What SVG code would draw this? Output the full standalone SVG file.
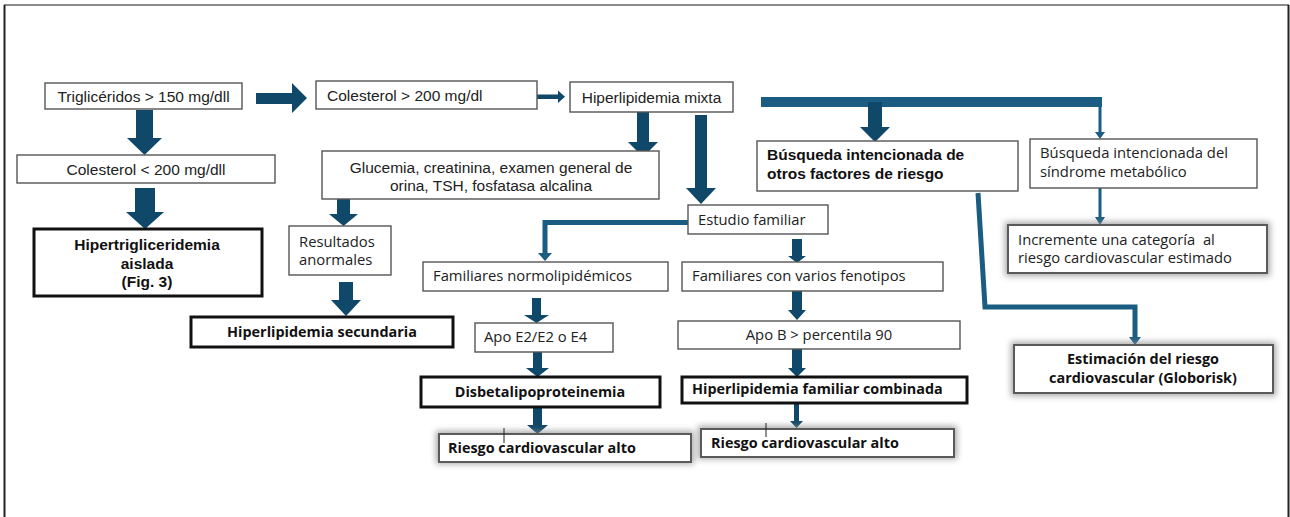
<svg xmlns="http://www.w3.org/2000/svg" width="1290" height="517" viewBox="0 0 1290 517">
  <defs>
    <style>
      .box { fill: #ffffff; stroke: #555555; stroke-width: 1.4; }
      .bold-box { fill: #ffffff; stroke: #111111; stroke-width: 3; }
      .soft-box { fill: #ffffff; stroke: #5a5a5a; stroke-width: 2; }
      .halo { fill: #8a8a8a; opacity: 0.75; filter: url(#blur); }
      .arrow { fill: #0f4868; }
      .link { fill: none; stroke: #1b5c82; stroke-width: 5; }
      .thin { fill: none; stroke: #1b5c82; stroke-width: 3; }
      .tip { fill: #1b5c82; }
      .ar { font-family: "Liberation Sans", Arial, sans-serif; font-size: 15.5px; fill: #222222; }
      .ar-b { font-family: "Liberation Sans", Arial, sans-serif; font-size: 15.5px; font-weight: bold; fill: #111111; }
      .ap { font-family: "Open Sans", "Noto Sans", sans-serif; font-size: 14.8px; fill: #222222; }
      .ap-b { font-family: "Open Sans", "Noto Sans", sans-serif; font-size: 14.4px; font-weight: bold; fill: #111111; }
      .mid { text-anchor: middle; }
      .tick { stroke: #222222; stroke-width: 1; }
    </style>
    <filter id="blur" x="-20%" y="-50%" width="140%" height="200%">
      <feGaussianBlur stdDeviation="3"/>
    </filter>
  </defs>

  <!-- frame -->
  <g id="frame">
    <line x1="4" y1="5" x2="1289" y2="5" stroke="#8a8a8a" stroke-width="2"/>
    <line x1="4.5" y1="5" x2="4.5" y2="517" stroke="#222222" stroke-width="2"/>
    <line x1="1288.5" y1="5" x2="1288.5" y2="517" stroke="#222222" stroke-width="2"/>
  </g>

  <!-- connectors -->
  <g id="connectors">
    <!-- Triglicéridos -> Colesterol < 200 -->
    <polygon class="arrow" points="136,110 153,110 153,138 162,138 144.5,155 127,138 136,138"/>
    <!-- Colesterol < 200 -> Hipertrigliceridemia aislada -->
    <polygon class="arrow" points="135,188 155,188 155,212 164,212 145,229 126,212 135,212"/>
    <!-- Triglicéridos -> Colesterol > 200 -->
    <polygon class="arrow" points="256,93 292,93 292,83 307,98 292,113 292,104 256,104"/>
    <!-- Colesterol > 200 -> Hiperlipidemia mixta -->
    <polygon class="arrow" points="537,94.5 558,94.5 558,90.5 565,96.7 558,103 558,99 537,99"/>
    <!-- Hiperlipidemia mixta -> Glucemia... -->
    <polygon class="arrow" points="637,112 649,112 649,142 658,142 643,157 628,142 637,142"/>
    <!-- Hiperlipidemia mixta -> Estudio familiar -->
    <polygon class="arrow" points="695,115 707,115 707,188 716,188 701,204 686,188 695,188"/>
    <!-- Glucemia... -> Resultados anormales -->
    <polygon class="arrow" points="337,199 350,199 350,214 358,214 343.5,226 329,214 337,214"/>
    <!-- Resultados anormales -> Hiperlipidemia secundaria -->
    <polygon class="arrow" points="339,282 353,282 353,300 361,300 346,316 331,300 339,300"/>
    <!-- Familiares normolipidémicos -> Apo E2/E2 o E4 -->
    <polygon class="arrow" points="532,298 541,298 541,315 549,315 536.5,323 524,315 532,315"/>
    <!-- Apo E2/E2 o E4 -> Disbetalipoproteinemia -->
    <polygon class="arrow" points="533,352 542,352 542,368 549,368 537.5,377 526,368 533,368"/>
    <!-- Disbetalipoproteinemia -> Riesgo cardiovascular alto -->
    <polygon class="arrow" points="533,407 542,407 542,425 548,425 537.5,434 527,425 533,425"/>
    <!-- Estudio familiar -> Familiares con varios fenotipos -->
    <polygon class="arrow" points="792,239 802,239 802,256 806,256 797,263 788,256 792,256"/>
    <!-- Familiares con varios fenotipos -> Apo B -->
    <polygon class="arrow" points="792,291 802,291 802,310 806,310 797,320 788,310 792,310"/>
    <!-- Apo B -> Hiperlipidemia familiar combinada -->
    <polygon class="arrow" points="792,349 802,349 802,368 806,368 797,377 788,368 792,368"/>
    <!-- Hiperlipidemia familiar combinada -> Riesgo cardiovascular alto -->
    <polygon class="arrow" points="794,403 799,403 799,421 803,421 796.5,428 790,421 794,421"/>

    <!-- branch bar from Hiperlipidemia mixta -->
    <rect x="761" y="97" width="341" height="10" fill="#1b5c82"/>
    <!-- bar -> Búsqueda de otros factores -->
    <polygon class="arrow" points="868,102 882,102 882,127 890,127 875,142 860,127 868,127"/>
    <!-- bar -> Búsqueda del síndrome metabólico -->
    <polyline class="thin" points="1100,105 1100,133"/>
    <polygon class="tip" points="1095,132 1105,132 1100,139"/>
    <!-- síndrome metabólico -> Incremente una categoría -->
    <polyline class="thin" points="1100,188 1100,218"/>
    <polygon class="tip" points="1095,217 1105,217 1100,225"/>
    <!-- Búsqueda de otros factores -> Estimación del riesgo -->
    <polyline class="link" points="978,193 985,307 1135,307 1135,338"/>
    <polygon class="tip" points="1129,337 1141,337 1135,345"/>
    <!-- Estudio familiar -> Familiares normolipidémicos -->
    <polyline class="link" points="688,222.5 545,222.5 545,254"/>
    <polygon class="tip" points="538,253 552,253 545,261"/>
  </g>

  <g id="n-trigliceridos">
    <rect class="box" x="45" y="83" width="197" height="26"/>
    <text class="ar mid" x="143.5" y="101.5">Triglicéridos &gt; 150 mg/dll</text>
  </g>

  <g id="n-colesterol-bajo">
    <rect class="box" x="17" y="155" width="258" height="28"/>
    <text class="ar mid" x="146" y="174.5">Colesterol &lt; 200 mg/dll</text>
  </g>

  <g id="n-hipertrigliceridemia">
    <rect class="bold-box" x="34" y="229" width="228" height="67"/>
    <text class="ar-b mid" x="147" y="250">Hipertrigliceridemia</text>
    <text class="ar-b mid" x="147" y="268.5">aislada</text>
    <text class="ar-b mid" x="147" y="287">(Fig. 3)</text>
  </g>

  <g id="n-colesterol-alto">
    <rect class="box" x="316" y="81" width="221" height="28"/>
    <text class="ar" x="327" y="100.5">Colesterol &gt; 200 mg/dl</text>
  </g>

  <g id="n-mixta">
    <rect class="box" x="570" y="82" width="163" height="30"/>
    <text class="ar mid" x="651.5" y="103">Hiperlipidemia mixta</text>
  </g>

  <g id="n-examenes">
    <rect class="box" x="322" y="151" width="337" height="48"/>
    <text class="ar mid" x="491" y="172.5">Glucemia, creatinina, examen general de</text>
    <text class="ar mid" x="491" y="190.5">orina, TSH, fosfatasa alcalina</text>
  </g>

  <g id="n-resultados">
    <rect class="box" x="289" y="226" width="102" height="49"/>
    <text class="ap" x="299" y="247">Resultados</text>
    <text class="ap" x="299" y="265">anormales</text>
  </g>

  <g id="n-secundaria">
    <rect class="bold-box" x="191" y="317" width="262" height="30"/>
    <text class="ap-b mid" x="322" y="337">Hiperlipidemia secundaria</text>
  </g>

  <g id="n-estudio">
    <rect class="box" x="688" y="205" width="140" height="29"/>
    <text class="ap" x="698" y="225">Estudio familiar</text>
  </g>

  <g id="n-normolipidemicos">
    <rect class="box" x="423" y="262" width="245" height="29"/>
    <text class="ap" x="433" y="281">Familiares normolipidémicos</text>
  </g>

  <g id="n-apoe">
    <rect class="box" x="475" y="323" width="138" height="29"/>
    <text class="ap" x="484" y="342">Apo E2/E2 o E4</text>
  </g>

  <g id="n-disbeta">
    <rect class="bold-box" x="421" y="377" width="239" height="30"/>
    <text class="ap-b mid" x="540" y="397">Disbetalipoproteinemia</text>
  </g>

  <g id="n-riesgo-1">
    <rect class="halo" x="436" y="431" width="258" height="33"/>
    <rect class="soft-box" x="439" y="434" width="252" height="28"/>
    <text class="ap-b" x="448" y="453">Riesgo cardiovascular alto</text>
    <line class="tick" x1="504" y1="428" x2="504" y2="443"/>
  </g>

  <g id="n-fenotipos">
    <rect class="box" x="682" y="262" width="261" height="29"/>
    <text class="ap" x="692" y="281">Familiares con varios fenotipos</text>
  </g>

  <g id="n-apob">
    <rect class="box" x="678" y="321" width="282" height="28"/>
    <text class="ap mid" x="819" y="340">Apo B &gt; percentila 90</text>
  </g>

  <g id="n-combinada">
    <rect class="bold-box" x="682" y="377" width="285" height="26"/>
    <text class="ap-b" x="692" y="394">Hiperlipidemia familiar combinada</text>
  </g>

  <g id="n-riesgo-2">
    <rect class="halo" x="698" y="426" width="259" height="33"/>
    <rect class="soft-box" x="701" y="429" width="253" height="28"/>
    <text class="ap-b" x="711" y="448">Riesgo cardiovascular alto</text>
    <line class="tick" x1="766" y1="423" x2="766" y2="437"/>
  </g>

  <g id="n-otros-factores">
    <rect class="box" x="757" y="141" width="261" height="50"/>
    <text class="ar-b" x="767" y="160">Búsqueda intencionada de</text>
    <text class="ar-b" x="767" y="179">otros factores de riesgo</text>
  </g>

  <g id="n-sindrome">
    <rect class="box" x="1030" y="139" width="227" height="49"/>
    <text class="ap" x="1040" y="158">Búsqueda intencionada del</text>
    <text class="ap" x="1040" y="177">síndrome metabólico</text>
  </g>

  <g id="n-incremente">
    <rect class="halo" x="1005" y="222" width="265" height="54"/>
    <rect class="soft-box" x="1008" y="225" width="259" height="48"/>
    <text class="ap" x="1018" y="245">Incremente una categoría&#160; al</text>
    <text class="ap" x="1018" y="263">riesgo cardiovascular estimado</text>
  </g>

  <g id="n-estimacion">
    <rect class="halo" x="1011" y="342" width="265" height="54"/>
    <rect class="soft-box" x="1014" y="345" width="259" height="48"/>
    <text class="ap-b mid" x="1143" y="364">Estimación del riesgo</text>
    <text class="ap-b mid" x="1143" y="383">cardiovascular (Globorisk)</text>
  </g>
</svg>
